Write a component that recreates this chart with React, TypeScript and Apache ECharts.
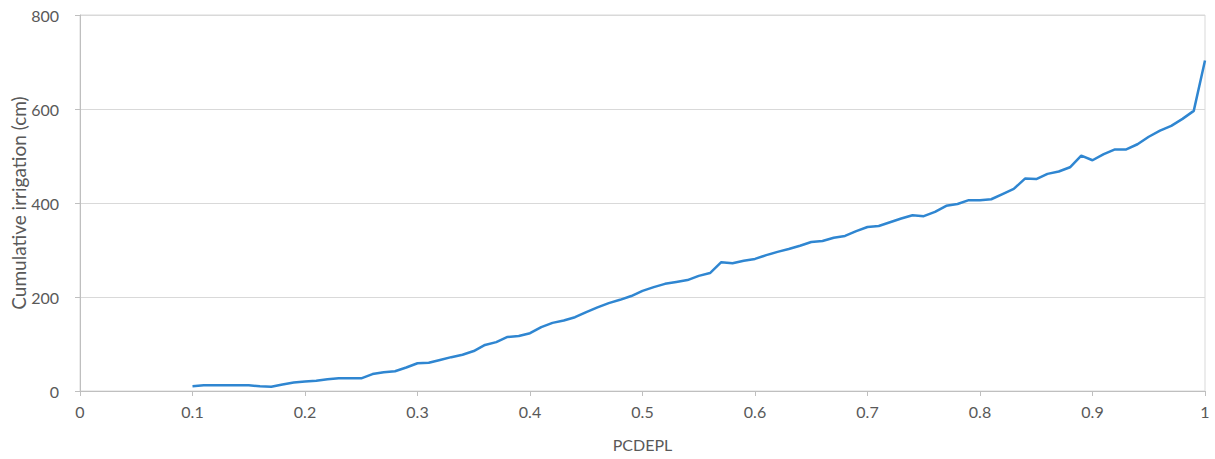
import React, { useEffect, useRef } from "react";
import * as echarts from "echarts";

const xValues: number[] = [
  0.1, 0.11, 0.12, 0.13, 0.14, 0.15, 0.16, 0.17, 0.18, 0.19,
  0.2, 0.21, 0.22, 0.23, 0.24, 0.25, 0.26, 0.27, 0.28, 0.29,
  0.3, 0.31, 0.32, 0.33, 0.34, 0.35, 0.36, 0.37, 0.38, 0.39,
  0.4, 0.41, 0.42, 0.43, 0.44, 0.45, 0.46, 0.47, 0.48, 0.49,
  0.5, 0.51, 0.52, 0.53, 0.54, 0.55, 0.56, 0.57, 0.58, 0.59,
  0.6, 0.61, 0.62, 0.63, 0.64, 0.65, 0.66, 0.67, 0.68, 0.69,
  0.7, 0.71, 0.72, 0.73, 0.74, 0.75, 0.76, 0.77, 0.78, 0.79,
  0.8, 0.81, 0.82, 0.83, 0.84, 0.85, 0.86, 0.87, 0.88, 0.89,
  0.9, 0.91, 0.92, 0.93, 0.94, 0.95, 0.96, 0.97, 0.98, 0.99,
  1.0,
];

const irrigation: number[] = [
  10, 12, 12, 12, 12, 12, 10, 9, 14, 18,
  20, 22, 25, 27, 27, 27, 36, 40, 42, 50,
  59, 60, 66, 72, 77, 85, 98, 104, 115, 117,
  123, 136, 145, 150, 157, 168, 178, 187, 194, 202,
  213, 221, 228, 232, 236, 245, 251, 274, 272, 277,
  281, 289, 296, 302, 309, 317, 319, 326, 330, 340,
  349, 351, 359, 367, 374, 372, 381, 394, 398, 406,
  406, 408, 419, 430, 452, 451, 462, 467, 476, 501,
  491, 504, 514, 514, 525, 541, 554, 564, 579, 596,
  703,
];

const xTicks = { min: 0, max: 1, interval: 0.1 };
const yTicks = { min: 0, max: 800, interval: 200 };

const FONT = "Lato, Roboto, sans-serif";

export default function App() {
  const ref = useRef<HTMLDivElement>(null);
  useEffect(() => {
    document.body.style.margin = "0";
    if (!ref.current) return;
    const chart = echarts.init(ref.current, undefined, { renderer: "svg" });
    chart.setOption({
      animation: false,
      grid: {
        left: 80,
        right: 10,
        top: 15,
        bottom: 68,
        containLabel: false,
        outerBoundsMode: "none",
        show: true,
        borderColor: "#d9d9d9",
        borderWidth: 1,
      },
      xAxis: {
        type: "value",
        min: xTicks.min,
        max: xTicks.max,
        interval: xTicks.interval,
        name: "PCDEPL",
        nameLocation: "middle",
        nameGap: 45,
        nameTextStyle: { color: "#595959", fontSize: 16, fontFamily: FONT },
        axisLine: { show: true, lineStyle: { color: "#bfbfbf", width: 1 } },
        axisTick: { show: true, length: 5, lineStyle: { color: "#bfbfbf" } },
        axisLabel: {
          color: "#595959",
          fontSize: 16,
          fontFamily: FONT,
          margin: 12,
          formatter: (v: number) => String(Math.round(v * 10) / 10),
        },
        splitLine: { show: false },
      },
      yAxis: {
        type: "value",
        min: yTicks.min,
        max: yTicks.max,
        interval: yTicks.interval,
        name: "Cumulative irrigation (cm)",
        nameLocation: "middle",
        nameGap: 52,
        nameMoveOverlap: false,
        nameTextStyle: { color: "#595959", fontSize: 19, fontFamily: FONT },
        axisLine: { show: true, lineStyle: { color: "#bfbfbf", width: 1 } },
        axisTick: { show: true, length: 5, lineStyle: { color: "#bfbfbf" } },
        axisLabel: { color: "#595959", fontSize: 16, fontFamily: FONT, margin: 21 },
        splitLine: { show: true, lineStyle: { color: "#d9d9d9", width: 1 } },
      },
      series: [
        {
          type: "line",
          data: xValues.map((x, i) => [x, irrigation[i]]),
          showSymbol: false,
          symbol: "none",
          lineStyle: { color: "#2f86d1", width: 2.5 },
        },
      ],
    });
    return () => chart.dispose();
  }, []);
  return <div ref={ref} style={{ width: 1215, height: 459 }} />;
}
